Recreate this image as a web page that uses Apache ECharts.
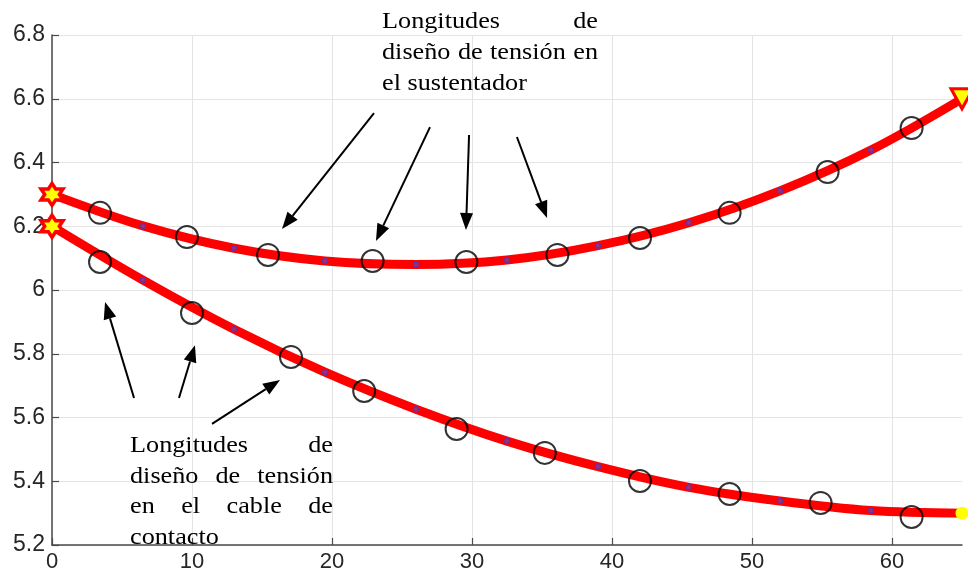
<!DOCTYPE html>
<html>
<head>
<meta charset="utf-8">
<script src="https://cdn.jsdelivr.net/npm/echarts@6/dist/echarts.min.js"></script>
<style>
  html, body { margin: 0; padding: 0; background: #ffffff; }
  #chart { width: 968px; height: 581px; }
</style>
</head>
<body>
<div id="chart"></div>
<script>
// Positions along the span (m) where the wire heights are sampled
const spanX = [0, 6.5, 13, 19.5, 26, 32.5, 39, 45.5, 52, 58.5, 65];
// Messenger wire (sustentador) height (m)
const messengerY = [6.30, 6.201, 6.131, 6.091, 6.080, 6.094, 6.139, 6.211, 6.311, 6.439, 6.60];
// Contact wire height (m)
const contactY = [6.20, 6.031, 5.877, 5.742, 5.626, 5.526, 5.446, 5.381, 5.338, 5.308, 5.30];

// Design-length points on the messenger wire
const messengerDesignX = [3.43, 9.64, 15.43, 22.9, 29.6, 36.1, 42.0, 48.4, 55.4, 61.4];
const messengerDesignY = [6.242, 6.166, 6.110, 6.091, 6.088, 6.110, 6.163, 6.242, 6.370, 6.508];
// Design-length points on the contact wire
const contactDesignX = [3.43, 10.0, 17.07, 22.3, 28.9, 35.2, 42.0, 48.4, 54.9, 61.4];
const contactDesignY = [6.088, 5.928, 5.790, 5.683, 5.564, 5.489, 5.401, 5.360, 5.332, 5.288];

// Tick values
const xTicks = [0, 10, 20, 30, 40, 50, 60];
const yMin = 5.2, yMax = 6.8, yStep = 0.2;

// Annotation texts
const messengerNote = ['Longitudes de', 'diseño de tensión en', 'el sustentador'];
const contactNote = ['Longitudes de', 'diseño de tensión', 'en el cable de', 'contacto'];

// Annotation arrows, [from, to] in axis units
const messengerArrows = [
  [[23.0, 6.555], [16.43, 6.191]],
  [[27.0, 6.511], [23.14, 6.154]],
  [[29.79, 6.486], [29.57, 6.188]],
  [[33.21, 6.480], [35.36, 6.226]]
];
const contactArrows = [
  [[5.86, 5.661], [3.79, 5.962]],
  [[9.07, 5.661], [10.21, 5.827]],
  [[11.43, 5.580], [16.29, 5.718]]
];

const RED = '#ff0000';
const YELLOW = '#ffff00';
const HEXAGRAM = 'path://M10,0 L12.887,5 L18.66,5 L15.77,10 L18.66,15 L12.887,15 L10,20 L7.113,15 L1.34,15 L4.23,10 L1.34,5 L7.113,5 Z';
const TRI_DOWN = 'path://M0,0 L20,0 L10,17 Z';

function wireData(ys, endSymbol) {
  return spanX.map((x, i) => {
    if (i === 0) {
      return { value: [x, ys[i]], symbol: HEXAGRAM, symbolSize: 22,
        itemStyle: { color: YELLOW, borderColor: RED, borderWidth: 3.5 } };
    }
    if (i === spanX.length - 1) return Object.assign({ value: [x, ys[i]] }, endSymbol);
    return [x, ys[i]];
  });
}

function wireSeries(name, ys, endSymbol) {
  return {
    name, type: 'line', smooth: 0.35, z: 2,
    data: wireData(ys, endSymbol),
    symbol: 'circle', symbolSize: 5, showSymbol: true,
    lineStyle: { color: RED, width: 9 },
    itemStyle: { color: '#b02a6a', borderColor: '#6a2fa0', borderWidth: 1.5 },
    emphasis: { disabled: true }
  };
}

function designSeries(name, xs, ys) {
  return {
    name, type: 'scatter', z: 4,
    data: xs.map((x, i) => [x, ys[i]]),
    symbol: 'circle', symbolSize: 22,
    itemStyle: { color: 'rgba(0,0,0,0)', borderColor: '#000000', borderWidth: 2 },
    emphasis: { disabled: true }
  };
}

const chart = echarts.init(document.getElementById('chart'), null, { renderer: 'canvas' });
const axisColor = '#4a4a4a';
const sans = '"Liberation Sans", Arial, sans-serif';

chart.setOption({
  animation: false,
  backgroundColor: '#ffffff',
  grid: { left: 52, right: 6, top: 35, bottom: 36, containLabel: false, outerBoundsMode: 'none' },
  xAxis: {
    type: 'value', min: 0, max: 65, interval: 10,
    axisLine: { show: true, onZero: false, lineStyle: { color: axisColor, width: 1.5 } },
    axisTick: { show: true, inside: true, length: 7, customValues: xTicks, lineStyle: { color: axisColor, width: 1.2 } },
    axisLabel: { customValues: xTicks, fontSize: 22, color: '#262626', margin: 6, fontFamily: sans },
    splitLine: { show: true, lineStyle: { color: '#e4e4e4', width: 1 } }
  },
  yAxis: {
    type: 'value', min: yMin, max: yMax, interval: yStep,
    axisLine: { show: true, onZero: false, lineStyle: { color: axisColor, width: 1.5 } },
    axisTick: { show: true, inside: true, length: 7, lineStyle: { color: axisColor, width: 1.2 } },
    axisLabel: { fontSize: 23, color: '#262626', margin: 7, fontFamily: sans,
      formatter: v => String(Number(v.toFixed(1))) },
    splitLine: { show: true, lineStyle: { color: '#e4e4e4', width: 1 } }
  },
  series: [
    wireSeries('Sustentador', messengerY,
      { symbol: TRI_DOWN, symbolSize: [22, 20], itemStyle: { color: YELLOW, borderColor: RED, borderWidth: 3 } }),
    wireSeries('Cable de contacto', contactY,
      { symbol: 'circle', symbolSize: 13, itemStyle: { color: YELLOW, borderWidth: 0 } }),
    designSeries('Longitudes sustentador', messengerDesignX, messengerDesignY),
    designSeries('Longitudes contacto', contactDesignX, contactDesignY)
  ]
});

// Arrows: black shaft with a filled triangular head
function arrowGraphics(arrows) {
  const g = [];
  const HL = 17, HW = 6.5;
  arrows.forEach(([from, to]) => {
    const p0 = chart.convertToPixel({ gridIndex: 0 }, from);
    const p1 = chart.convertToPixel({ gridIndex: 0 }, to);
    const dx = p1[0] - p0[0], dy = p1[1] - p0[1];
    const len = Math.hypot(dx, dy);
    const ux = dx / len, uy = dy / len;
    const bx = p1[0] - ux * HL, by = p1[1] - uy * HL;
    g.push({ type: 'line', z: 90, silent: true,
      shape: { x1: p0[0], y1: p0[1], x2: bx, y2: by },
      style: { stroke: '#000000', lineWidth: 2 } });
    g.push({ type: 'polygon', z: 90, silent: true,
      shape: { points: [[p1[0], p1[1]], [bx - uy * HW, by + ux * HW], [bx + uy * HW, by - ux * HW]] },
      style: { fill: '#000000' } });
  });
  return g;
}

// Justified serif text blocks
const serif = '"Liberation Serif", "Times New Roman", serif';
const TXT_SIZE = 23, TXT_SX = 1.14;
const measure = document.createElement('canvas').getContext('2d');
measure.font = TXT_SIZE + 'px ' + serif;

function textBlock(lines, left, right, firstMiddle, lineGap) {
  const out = [];
  lines.forEach((line, i) => {
    const words = line.split(' ');
    const widths = words.map(w => measure.measureText(w).width * TXT_SX);
    const isLast = i === lines.length - 1;
    const total = widths.reduce((a, b) => a + b, 0);
    const gap = (isLast || words.length === 1)
      ? measure.measureText(' ').width * TXT_SX
      : (right - left - total) / (words.length - 1);
    let x = left;
    words.forEach((w, j) => {
      out.push({ type: 'text', z: 100, silent: true,
        x: x, y: firstMiddle + i * lineGap, scaleX: TXT_SX,
        style: { text: w, font: TXT_SIZE + 'px ' + serif, fill: '#000000', align: 'left', verticalAlign: 'middle' } });
      x += widths[j] + gap;
    });
  });
  return out;
}

chart.setOption({
  graphic: [].concat(
    arrowGraphics(messengerArrows),
    arrowGraphics(contactArrows),
    textBlock(messengerNote, 382, 598, 22, 31),
    textBlock(contactNote, 130, 333, 446, 30.7)
  )
});
</script>
</body>
</html>
